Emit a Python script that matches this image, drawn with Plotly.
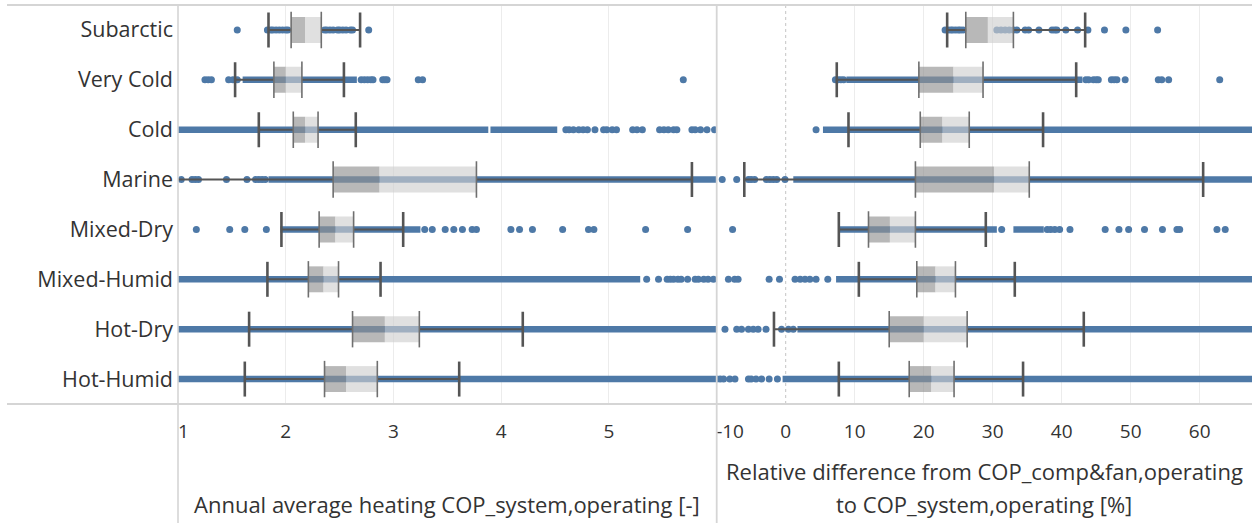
import plotly.graph_objects as go

# ---------------- data ----------------
categories = ["Subarctic", "Very Cold", "Cold", "Marine", "Mixed-Dry",
              "Mixed-Humid", "Hot-Dry", "Hot-Humid"]

# Left panel: annual average heating COP_system,operating [-]
cop_lo = [1.84, 1.53, 1.75, 0.98, 1.96, 1.83, 1.66, 1.62]
cop_q1 = [2.05, 1.89, 2.07, 2.44, 2.31, 2.21, 2.62, 2.36]
cop_med = [2.18, 2.00, 2.18, 2.87, 2.46, 2.35, 2.92, 2.56]
cop_q3 = [2.33, 2.15, 2.30, 3.77, 2.63, 2.49, 3.24, 2.85]
cop_hi = [2.69, 2.54, 2.65, 5.77, 3.09, 2.88, 4.20, 3.61]
# dense runs of overlapping points (start, end)
cop_dense = [
    [],
    [[1.60, 2.66]],
    [[1.00, 3.88], [3.90, 4.52]],
    [[1.84, 6.00]],
    [[1.95, 3.25]],
    [[1.00, 5.29]],
    [[1.00, 6.00]],
    [[1.00, 6.00]],
]
# individual (separable) points
cop_points = [
    [1.55, 1.83, 1.86, 1.88, 1.91, 1.94, 1.97, 2.00, 2.02, 2.36, 2.38, 2.41,
     2.44, 2.48, 2.50, 2.53, 2.56, 2.60, 2.62, 2.77],
    [1.25, 1.28, 1.31, 1.47, 1.51, 1.55, 2.70, 2.73, 2.76, 2.79, 2.81, 2.90,
     2.92, 2.94, 3.23, 3.27, 5.69],
    [4.60, 4.63, 4.67, 4.72, 4.76, 4.80, 4.87, 4.95, 4.98, 5.03, 5.07, 5.22,
     5.26, 5.31, 5.47, 5.51, 5.55, 5.60, 5.63, 5.77, 5.80, 5.85, 5.91, 5.98],
    [1.03, 1.13, 1.16, 1.19, 1.45, 1.64, 1.72, 1.75, 1.78, 1.81],
    [1.17, 1.48, 1.62, 1.82, 3.29, 3.36, 3.48, 3.56, 3.64, 3.73, 3.77, 4.09,
     4.17, 4.29, 4.57, 4.81, 4.86, 5.34, 5.73],
    [5.35, 5.46, 5.54, 5.57, 5.60, 5.64, 5.67, 5.73, 5.80, 5.83, 5.88, 5.92,
     5.97],
    [],
    [],
]

# Right panel: relative difference [%]
rd_lo = [23.4, 7.4, 9.1, -6.0, 7.7, 10.6, -1.7, 7.7]
rd_q1 = [26.1, 19.3, 19.5, 18.8, 12.0, 19.0, 15.0, 17.9]
rd_med = [29.3, 24.3, 22.7, 30.2, 15.1, 21.7, 20.0, 21.1]
rd_q3 = [33.0, 28.6, 26.6, 35.3, 18.8, 24.6, 26.3, 24.4]
rd_hi = [43.4, 42.1, 37.3, 60.5, 29.0, 33.2, 43.2, 34.4]
rd_dense = [
    [],
    [[8.8, 43.0]],
    [[5.4, 67.6]],
    [[1.1, 67.6]],
    [[7.6, 30.6], [33.0, 37.4]],
    [[7.3, 67.6]],
    [[1.7, 67.6]],
    [[-0.45, 67.6]],
]
rd_points = [
    [23.1, 23.5, 23.9, 24.2, 24.6, 25.0, 25.3, 25.7, 30.6, 31.2, 31.8, 32.4,
     33.0, 33.5, 34.7, 35.2, 36.7, 38.6, 39.0, 39.3, 40.6, 42.3, 43.8, 46.2,
     49.3, 53.9],
    [7.2, 7.6, 8.0, 8.4, 43.5, 43.9, 44.6, 45.0, 45.3, 47.2, 47.6, 48.0, 49.2,
     54.0, 54.5, 55.5, 62.9],
    [4.4],
    [-9.2, -7.1, -5.4, -5.0, -4.5, -2.8, -2.3, -1.8, -1.3, -0.1],
    [-7.7, 31.3, 37.9, 38.4, 39.0, 39.7, 41.2, 46.3, 48.3, 49.7, 52.0, 54.6,
     56.7, 57.1, 62.5, 63.7],
    [-8.3, -7.4, -6.9, -2.4, -0.9, 1.35, 2.1, 2.8, 3.5, 4.4, 6.1],
    [-8.8, -7.1, -6.4, -5.4, -4.7, -4.0, -2.85, -0.6, 0.4, 1.1],
    [-10.0, -9.5, -9.0, -8.1, -7.35, -5.4, -5.0, -4.3, -3.5, -2.4, -1.2],
]

cop_ticks = [1, 2, 3, 4, 5]
cop_ticktext = ["\u20071", "2", "3", "4", "5"]
rd_ticks = [-10, 0, 10, 20, 30, 40, 50, 60]
rd_ticktext = ["\u2007\u2007\u2008-10", "0", "10", "20", "30", "40", "50", "60"]
rd_grid = [10, 20, 30, 40, 50, 60]

left_title = "Annual average heating COP_system,operating [-]"
right_title_1 = "Relative difference from COP_comp&fan,operating"
right_title_2 = "to COP_system,operating [%]"

# ---------------- style ----------------
W, H = 1252, 523
FONT = "Open Sans"
TXT = "#333333"
BLUE = "#4e79a7"
DARK = "#555555"
BOX_DARK = "rgba(146,146,146,0.65)"
BOX_LIGHT = "rgba(206,206,206,0.64)"
GRID = "#ececec"
BORDER = "#d5d5d5"

x_left0 = 178 / W
x_sep = 716.7 / W
y_bot = 1 - 404 / H
y_top = 1 - 5 / H


def seg_xy(segs_per_cat):
    xs, ys = [], []
    for cat, segs in zip(categories, segs_per_cat):
        for s, e in segs:
            xs += [s, e, None]
            ys += [cat, cat, None]
    return xs, ys


def pts_xy(pts_per_cat):
    xs, ys = [], []
    for cat, pts in zip(categories, pts_per_cat):
        xs += pts
        ys += [cat] * len(pts)
    return xs, ys


def whisk_xy(lo, q1, q3, hi):
    xs, ys = [], []
    for cat, a, b, c, d in zip(categories, lo, q1, q3, hi):
        xs += [a, b, None, c, d, None]
        ys += [cat, cat, None, cat, cat, None]
    return xs, ys


fig = go.Figure()

panels = [
    ("x", "x3", cop_lo, cop_q1, cop_med, cop_q3, cop_hi, cop_dense, cop_points),
    ("x2", "x4", rd_lo, rd_q1, rd_med, rd_q3, rd_hi, rd_dense, rd_points),
]

# base layer: point clouds
for xa, xo, lo, q1, med, q3, hi, dense, pts in panels:
    bx, by = seg_xy(dense)
    fig.add_trace(go.Scatter(x=bx, y=by, xaxis=xa, yaxis="y", mode="lines",
                             line=dict(color=BLUE, width=6.5),
                             hoverinfo="skip", showlegend=False))
    px, py = pts_xy(pts)
    fig.add_trace(go.Scatter(x=px, y=py, xaxis=xa, yaxis="y", mode="markers",
                             marker=dict(color=BLUE, size=7, line=dict(width=0)),
                             hoverinfo="skip", showlegend=False))

# overlay layer: boxes, whiskers, caps
for xa, xo, lo, q1, med, q3, hi, dense, pts in panels:
    fig.add_trace(go.Bar(y=categories, x=[m - a for m, a in zip(med, q1)], base=q1,
                         orientation="h", width=0.52, xaxis=xo, yaxis="y2",
                         marker=dict(color=BOX_DARK, line=dict(width=0)),
                         hoverinfo="skip", showlegend=False))
    fig.add_trace(go.Bar(y=categories, x=[b - m for b, m in zip(q3, med)], base=med,
                         orientation="h", width=0.52, xaxis=xo, yaxis="y2",
                         marker=dict(color=BOX_LIGHT, line=dict(width=0)),
                         hoverinfo="skip", showlegend=False))
    wx, wy = whisk_xy(lo, q1, q3, hi)
    fig.add_trace(go.Scatter(x=wx, y=wy, xaxis=xo, yaxis="y2", mode="lines",
                             line=dict(color=DARK, width=2),
                             hoverinfo="skip", showlegend=False))
    fig.add_trace(go.Scatter(x=q1 + q3, y=categories * 2, xaxis=xo, yaxis="y2",
                             mode="markers",
                             marker=dict(symbol="line-ns", size=26,
                                         line=dict(color="#6f6f6f", width=1.6)),
                             cliponaxis=True, hoverinfo="skip", showlegend=False))
    fig.add_trace(go.Scatter(x=lo + hi, y=categories * 2, xaxis=xo, yaxis="y2",
                             mode="markers",
                             marker=dict(symbol="line-ns", size=25,
                                         line=dict(color=DARK, width=2.6)),
                             cliponaxis=True, hoverinfo="skip", showlegend=False))

tickfont = dict(family=FONT, size=19, color=TXT)

fig.update_layout(
    width=W, height=H,
    margin=dict(l=0, r=0, t=0, b=0, autoexpand=False),
    paper_bgcolor="white", plot_bgcolor="white",
    barmode="overlay",
    showlegend=False,
    xaxis=dict(domain=[x_left0, x_sep], range=[1, 6], tickvals=cop_ticks,
               ticktext=cop_ticktext, showgrid=True, gridcolor=GRID, gridwidth=1,
               zeroline=False, showline=False, ticks="", ticklabelstandoff=14,
               tickfont=tickfont, anchor="y", fixedrange=True, automargin=False),
    xaxis2=dict(domain=[x_sep, 1.0], range=[-10, 67.58], tickvals=rd_ticks,
                ticktext=rd_ticktext, showgrid=False,
                zeroline=False, showline=False, ticks="", ticklabelstandoff=14,
                tickfont=tickfont, anchor="y", fixedrange=True, automargin=False),
    xaxis3=dict(overlaying="x", range=[1, 6], visible=False, anchor="y2",
                automargin=False),
    xaxis4=dict(overlaying="x2", range=[-10, 67.58], tickvals=rd_grid,
                showticklabels=False, showgrid=True, gridcolor=GRID, gridwidth=1,
                zeroline=False, showline=False, ticks="", anchor="y2",
                automargin=False),
    yaxis=dict(domain=[y_bot, y_top], type="category", categoryarray=categories,
               range=[7.5, -0.5], showgrid=False, zeroline=False, showline=False,
               ticks="", ticklabelstandoff=4, automargin=False,
               tickfont=dict(family=FONT, size=21.5, color=TXT), anchor="x"),
    yaxis2=dict(overlaying="y", type="category", categoryarray=categories,
                range=[7.5, -0.5], visible=False, anchor="x3", automargin=False),
)

shapes = [
    dict(type="line", xref="paper", yref="paper", x0=7 / W, x1=1, y0=y_top, y1=y_top,
         line=dict(color=BORDER, width=2)),
    dict(type="line", xref="paper", yref="paper", x0=7 / W, x1=1, y0=y_bot, y1=y_bot,
         line=dict(color=BORDER, width=2)),
    dict(type="line", xref="paper", yref="paper", x0=x_left0, x1=x_left0, y0=0, y1=y_top,
         line=dict(color=BORDER, width=1.6)),
    dict(type="line", xref="paper", yref="paper", x0=x_sep, x1=x_sep, y0=0, y1=y_top,
         line=dict(color=BORDER, width=1.8)),
    dict(type="line", xref="x2", yref="paper", x0=0, x1=0, y0=y_bot, y1=y_top,
         layer="below", line=dict(color="#c4c4c4", width=1, dash="dot")),
]
fig.update_layout(shapes=shapes)

title_font = dict(family=FONT, size=22, color=TXT)
fig.add_annotation(text=left_title, xref="paper", yref="paper",
                   x=(x_left0 + x_sep) / 2, y=1 - 504 / H,
                   xanchor="center", yanchor="middle",
                   showarrow=False, font=title_font)
fig.add_annotation(text=right_title_1, xref="paper", yref="paper",
                   x=(x_sep + 1) / 2, y=1 - 471 / H,
                   xanchor="center", yanchor="middle",
                   showarrow=False, font=title_font)
fig.add_annotation(text=right_title_2, xref="paper", yref="paper",
                   x=(x_sep + 1) / 2, y=1 - 504 / H,
                   xanchor="center", yanchor="middle",
                   showarrow=False, font=title_font)

fig.write_html("out.html")
